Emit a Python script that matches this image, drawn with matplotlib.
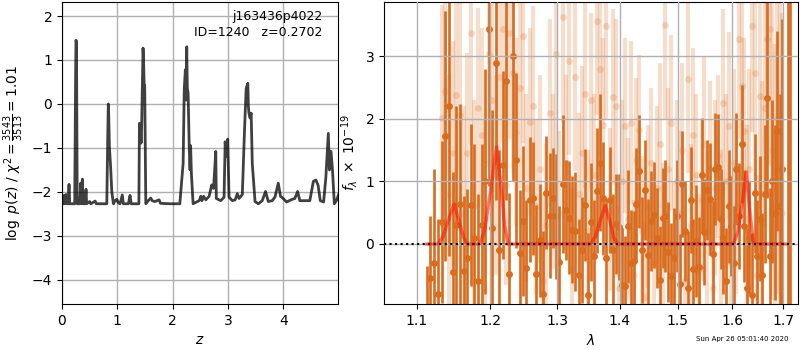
import matplotlib
matplotlib.use('Agg')
import matplotlib.pyplot as plt
from matplotlib.ticker import FixedLocator, NullLocator, FixedFormatter

# p(z) curve, left panel
pz_z = [0.00, 0.01, 0.02, 0.035, 0.05, 0.07, 0.09, 0.11, 0.127, 0.14,
        0.23, 0.245, 0.253, 0.262, 0.275, 0.32, 0.338, 0.35, 0.368, 0.38,
        0.42, 0.434, 0.445, 0.50, 0.52, 0.60, 0.62, 0.81, 0.825, 0.837,
        0.846, 0.856, 0.868, 0.880, 0.90, 0.93, 0.96, 0.99, 1.02, 1.05,
        1.09, 1.11, 1.20, 1.23, 1.25, 1.39, 1.40, 1.415, 1.43, 1.44,
        1.465, 1.475, 1.485, 1.495, 1.515, 1.56, 1.605, 1.63, 1.68, 1.755,
        1.78, 1.95, 2.13, 2.19, 2.21, 2.23, 2.245, 2.255, 2.266, 2.28,
        2.30, 2.315, 2.325, 2.34, 2.37, 2.40, 2.48, 2.51, 2.53, 2.56,
        2.60, 2.66, 2.707, 2.74, 2.78, 2.79, 2.87, 2.93, 2.95, 2.97,
        2.996, 3.02, 3.08, 3.13, 3.17, 3.20, 3.26, 3.30, 3.33, 3.36,
        3.37, 3.38, 3.40, 3.42, 3.44, 3.49, 3.55, 3.62, 3.68, 3.73,
        3.80, 3.85, 3.91, 3.95, 4.00, 4.06, 4.14, 4.21, 4.26, 4.30,
        4.39, 4.48, 4.545, 4.59, 4.63, 4.67, 4.73, 4.77, 4.815, 4.835,
        4.864, 4.89, 4.924, 4.96, 5.01]
pz_logp = [-2.27, -2.10, -2.27, -2.08, -2.27, -2.06, -2.27, -2.27, -1.83, -2.27,
           -2.27, 0.50, 1.45, 1.40, -2.27, -2.27, -1.80, -2.27, -1.71, -2.27,
           -2.27, -1.94, -2.27, -2.22, -2.27, -2.21, -2.27, -2.27, -0.90, 0.00,
           -0.30, -0.95, -1.20, -1.45, -2.00, -2.27, -2.20, -2.17, -2.25, -2.27,
           -2.07, -2.27, -2.27, -2.08, -2.27, -2.27, -0.44, -0.45, -0.89, -0.50,
           1.27, 1.00, 0.44, 0.43, -2.27, -2.20, -2.14, -2.20, -2.22, -2.18,
           -2.26, -2.27, -2.27, -1.35, 0.32, 0.78, 0.09, 1.30, 0.36, 0.25,
           -0.97, -1.50, -0.95, -1.60, -2.27, -2.25, -2.20, -2.10, -2.20, -2.10,
           -2.18, -2.10, -1.84, -1.92, -1.08, -2.15, -2.20, -2.12, -0.86, -1.20,
           -0.80, -2.12, -2.20, -2.18, -2.04, -2.15, -2.06, -0.59, 0.36, 0.47,
           -0.06, -0.21, -0.32, -0.21, -1.35, -2.22, -2.27, -2.20, -1.99, -2.22,
           -2.20, -2.12, -1.80, -2.10, -2.15, -2.23, -2.18, -2.15, -1.99, -2.20,
           -2.20, -2.20, -1.76, -1.73, -1.85, -2.20, -2.23, -1.68, -0.67, -1.50,
           -1.08, -1.50, -2.27, -2.20, -2.03]

# spectrum 1 (dark points)
wave1 = [1.113, 1.118, 1.123, 1.128, 1.133, 1.138, 1.143, 1.148, 1.153, 1.158,
         1.163, 1.168, 1.173, 1.178, 1.183, 1.188, 1.193, 1.198, 1.203, 1.208,
         1.213, 1.218, 1.223, 1.228, 1.233, 1.238, 1.243, 1.248, 1.253, 1.258,
         1.263, 1.268, 1.273, 1.278, 1.283, 1.288, 1.293, 1.298, 1.303, 1.308,
         1.313, 1.318, 1.323, 1.328, 1.333, 1.338, 1.343, 1.348, 1.353, 1.358,
         1.363, 1.368, 1.373, 1.378, 1.383, 1.388, 1.393, 1.398, 1.403, 1.408,
         1.413, 1.418, 1.423, 1.428, 1.433, 1.438, 1.443, 1.448, 1.453, 1.458,
         1.463, 1.468, 1.473, 1.478, 1.483, 1.488, 1.493, 1.498, 1.503, 1.508,
         1.513, 1.518, 1.523, 1.528, 1.533, 1.538, 1.543, 1.548, 1.553, 1.558,
         1.563, 1.568, 1.573, 1.578, 1.583, 1.588, 1.593, 1.598, 1.603, 1.608,
         1.613, 1.618, 1.623, 1.628, 1.633, 1.638, 1.643, 1.648, 1.653, 1.658,
         1.663, 1.668, 1.673, 1.678, 1.683, 1.688, 1.693, 1.698, 1.709, 1.714]
flux1 = [-1.60, -0.55, -0.30, -0.80, 0.35, 1.73, 2.20, -0.45, 0.30, 0.64,
         -0.43, -0.22, 0.62, 0.10, -0.60, 0.30, 1.00, 3.43, 0.25, 2.90,
         -0.10, 1.26, 2.60, -0.48, 3.00, 1.34, -0.14, 0.37, -0.39, 0.71,
         0.73, -0.48, 0.06, -0.80, 0.82, 0.45, 0.73, 0.44, -0.29, 0.96,
         0.55, 0.42, 0.23, 0.20, -0.50, -0.10, 0.62, -0.82, 0.35, -0.20,
         0.85, 1.30, 0.73, -0.22, 0.70, -0.10, 0.32, 0.27, -0.65, -0.68,
         0.28, -0.30, -0.27, 0.64, 1.16, -0.10, 0.86, -0.18, 0.37, 0.46,
         0.09, -0.57, 0.42, 0.45, -0.13, -0.52, -0.22, 0.45, -0.64, 0.96,
         0.20, -0.70, 0.70, -0.40, 0.05, -0.37, 1.11, 0.19, 0.86, 0.72,
         -0.16, 1.20, 1.23, 0.40, 0.10, -0.60, 0.60, 0.29, -0.30, 1.20,
         0.45, 1.60, 0.29, -0.70, 0.10, -0.82, 0.81, -0.20, 0.40, -0.50,
         0.80, 2.33, -0.20, 1.00, 0.50, 1.80, 0.60, 1.20, 5.00, 5.00]
err1 = [1.25, 1.00, 1.50, 1.20, 1.30, 2.00, 2.40, 1.60, 1.90, 1.60,
        1.20, 1.10, 1.30, 1.50, 1.40, 1.30, 1.80, 2.50, 1.90, 2.20,
        1.60, 1.50, 1.90, 1.30, 2.00, 1.40, 1.00, 1.20, 1.10, 1.00,
        0.90, 1.10, 0.90, 1.00, 0.90, 1.00, 0.80, 1.00, 0.90, 1.10,
        0.80, 0.90, 0.85, 0.95, 0.90, 0.85, 0.90, 1.00, 0.95, 0.90,
        1.00, 1.10, 0.90, 0.95, 0.85, 0.90, 0.80, 0.85, 0.90, 0.80,
        0.90, 0.85, 0.80, 0.90, 0.90, 0.85, 0.80, 0.90, 0.80, 0.85,
        0.80, 0.85, 0.80, 0.90, 0.80, 0.85, 0.80, 0.90, 0.80, 0.85,
        0.80, 0.90, 0.85, 0.80, 0.90, 0.80, 0.90, 0.85, 0.80, 0.90,
        0.85, 0.90, 0.85, 0.80, 0.90, 0.85, 0.90, 0.80, 0.90, 0.90,
        0.85, 0.95, 0.90, 0.95, 0.90, 1.00, 0.95, 0.90, 1.00, 1.00,
        1.10, 1.60, 1.10, 1.30, 1.40, 1.60, 1.80, 2.40, 9.00, 9.00]

# spectrum 2 (light points)
wave2 = [1.133, 1.138, 1.143, 1.148, 1.153, 1.158, 1.163, 1.168, 1.173, 1.178,
         1.183, 1.188, 1.193, 1.198, 1.203, 1.208, 1.213, 1.218, 1.223, 1.228,
         1.233, 1.238, 1.243, 1.248, 1.253, 1.258, 1.263, 1.268, 1.273, 1.278,
         1.283, 1.288, 1.293, 1.298, 1.303, 1.308, 1.313, 1.318, 1.323, 1.328,
         1.333, 1.338, 1.343, 1.348, 1.353, 1.358, 1.363, 1.368, 1.373, 1.378,
         1.383, 1.388, 1.393, 1.398, 1.403, 1.408, 1.413, 1.418, 1.423, 1.428,
         1.433, 1.438, 1.443, 1.448, 1.453, 1.458, 1.463, 1.468, 1.473, 1.478,
         1.483, 1.488, 1.493, 1.498, 1.503, 1.508, 1.513, 1.518, 1.523, 1.528,
         1.533, 1.538, 1.543, 1.548, 1.553, 1.558, 1.563, 1.568, 1.573, 1.578,
         1.583, 1.588, 1.593, 1.598, 1.603, 1.608, 1.613, 1.618, 1.623, 1.628,
         1.633, 1.638, 1.643, 1.648, 1.653, 1.658, 1.663, 1.668, 1.673, 1.678,
         1.683, 1.688, 1.693, 1.698]
flux2 = [2.02, 2.44, 0.80, 1.45, 2.38, 2.06, 0.50, 1.45, 3.38, 0.60,
         2.17, 1.75, 0.40, 3.03, 2.31, 1.10, 2.67, 3.43, 0.95, 3.38,
         2.73, 1.79, 2.50, 3.32, 0.90, 1.95, 2.20, 0.60, 1.20, -0.60,
         0.30, 2.10, 1.00, 3.03, 0.50, 3.63, 1.30, 2.93, -0.40, 2.67,
         0.80, 1.45, 2.40, 0.20, 2.30, 1.10, 3.57, 2.80, 1.90, 3.49,
         0.55, 2.35, 2.20, -0.70, 1.00, 1.89, 0.40, 1.94, -0.50, 1.35,
         1.82, 0.20, -0.85, 0.60, 1.30, -0.30, 0.90, 1.60, 0.10, 3.50,
         1.20, 1.94, -0.20, 1.00, 0.50, 1.50, -0.60, 2.64, 0.30, 1.74,
         1.10, -0.40, 0.70, 1.60, 0.20, 1.20, -0.70, 0.90, 1.40, 0.10,
         2.26, 1.00, 1.89, -0.30, 1.30, 0.60, 3.28, 2.53, 1.80, 0.40,
         1.20, 3.49, 2.73, -0.50, 2.37, 0.80, 2.17, 3.28, 3.44, 1.50,
         0.60, 2.00, 1.20, 0.50]
err2 = [1.8, 2.0, 1.9, 1.8, 1.9, 1.8, 1.7, 1.6, 1.8, 1.7,
        1.6, 1.7, 1.6, 1.8, 1.7, 1.6, 1.7, 1.8, 1.6, 1.7,
        1.6, 1.5, 1.6, 1.7, 1.5, 1.5, 1.6, 1.4, 1.5, 1.4,
        1.3, 1.5, 1.4, 1.6, 1.3, 1.7, 1.4, 1.5, 1.3, 1.5,
        1.3, 1.4, 1.5, 1.3, 1.4, 1.3, 1.5, 1.4, 1.4, 1.5,
        1.3, 1.4, 1.4, 1.3, 1.3, 1.4, 1.3, 1.3, 1.2, 1.3,
        1.2, 1.2, 1.2, 1.3, 1.2, 1.2, 1.3, 1.3, 1.2, 1.5,
        1.3, 1.4, 1.2, 1.3, 1.3, 1.4, 1.2, 1.5, 1.3, 1.4,
        1.3, 1.2, 1.3, 1.4, 1.3, 1.4, 1.3, 1.4, 1.3, 1.4,
        1.5, 1.4, 1.5, 1.4, 1.5, 1.4, 1.6, 1.6, 1.5, 1.5,
        1.6, 1.7, 1.7, 1.6, 1.8, 1.8, 1.9, 2.0, 2.2, 2.4,
        2.6, 2.8, 3.0, 3.2]

# line model vertices
model_wave = [1.113, 1.128, 1.135, 1.142, 1.150, 1.157, 1.163, 1.168,
              1.186, 1.193, 1.200, 1.2095, 1.216, 1.221, 1.226,
              1.352, 1.360, 1.368, 1.376, 1.384, 1.390, 1.396,
              1.602, 1.611, 1.619, 1.627, 1.633, 1.641, 1.705]
model_flux = [0.0, 0.0, 0.12, 0.38, 0.64, 0.35, 0.10, 0.0,
              0.0, 0.25, 0.80, 1.55, 0.90, 0.30, 0.0,
              0.0, 0.12, 0.38, 0.61, 0.35, 0.10, 0.0,
              0.0, 0.20, 0.65, 1.15, 0.60, 0.0, 0.0]

xticks = [1.1, 1.2, 1.3, 1.4, 1.5, 1.6, 1.7]

orange = '#d96c1e'

fig = plt.figure(figsize=(8, 3.5), dpi=100)
ax1 = fig.add_axes([0.0775, 0.1314, 0.345, 0.863])
ax2 = fig.add_axes([0.48, 0.1314, 0.5175, 0.863])

# left: p(z)
ax1.plot(pz_z, pz_logp, color='k', alpha=0.75, lw=2)
ax1.set_xlim(0, 4.99)
ax1.set_ylim(-4.55, 2.32)
ax1.set_xticks([0, 1, 2, 3, 4])
ax1.set_yticks([-4, -3, -2, -1, 0, 1, 2])
ax1.grid(True, color='#b0b0b0', lw=1)
ax1.set_xlabel(r'$z$')
ax1.set_ylabel(r'$\log\ p(z)$ / $\chi^2=\frac{3543}{3513}=1.01$')
ax1.text(0.945, 0.975, 'j163436p4022\nID=1240   z=0.2702', transform=ax1.transAxes,
         ha='right', va='top', fontsize=9, linespacing=1.35)

# right: spectrum
ax2.errorbar(wave2, flux2, yerr=err2, fmt='o', color=orange, alpha=0.22,
             ms=5, elinewidth=3.0, capsize=0, mec='none', zorder=1)
ax2.errorbar(wave1, flux1, yerr=err1, fmt='o', color=orange, alpha=1.0,
             ms=5, elinewidth=1.9, capsize=0, mec='none', zorder=2)
ax2.plot(model_wave, model_flux, color='r', alpha=0.45, lw=2.5, zorder=3)
ax2.plot(model_wave, model_flux, color='#ff3b1f', alpha=0.35, lw=1.5, zorder=3)
ax2.axhline(0, color='k', ls=':', lw=1.5, zorder=4)

ax2.set_xscale('log')
ax2.set_xlim(1.058, 1.730)
ax2.set_ylim(-0.96, 3.87)
ax2.xaxis.set_major_locator(FixedLocator(xticks))
ax2.xaxis.set_major_formatter(FixedFormatter(['%.1f' % t for t in xticks]))
ax2.xaxis.set_minor_locator(NullLocator())
ax2.set_yticks([0, 1, 2, 3])
ax2.set_axisbelow(False)
ax2.grid(True, color='#b0b0b0', lw=1, zorder=5)
ax2.set_xlabel(r'$\lambda$')
ax2.set_ylabel(r'$f_\lambda\ \times\ 10^{-19}$')

fig.text(0.985, 0.031, 'Sun Apr 26 05:01:40 2020', ha='right', va='center', fontsize=5)

fig.savefig('out.png', dpi=100)
